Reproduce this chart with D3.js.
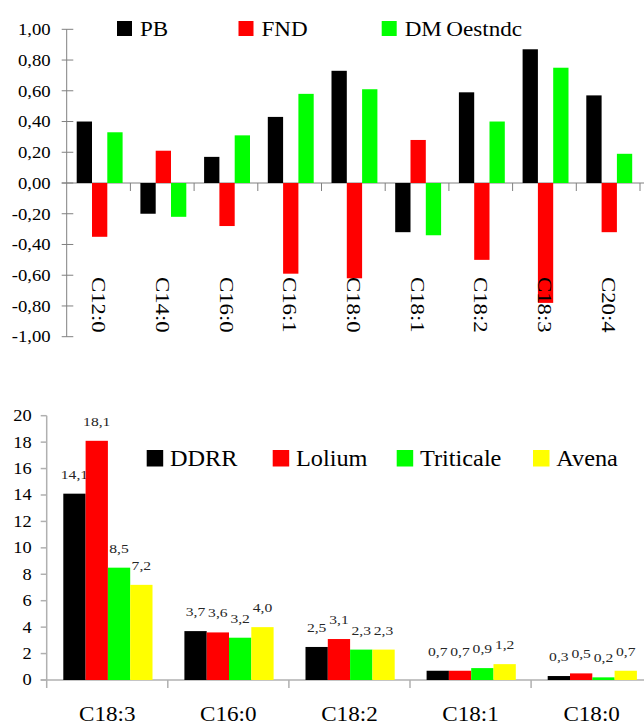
<!DOCTYPE html>
<html>
<head>
    <meta charset="UTF-8">
    <script src="https://d3js.org/d3.v7.min.js"></script>
    <style>
        body { margin: 0; background: #fff; }
        svg { display: block; }
    </style>
</head>
<body>
    <div id="chart"></div>
    <script>
        /*------------------- Data: top chart --------------------*/
        const acidosTop = ["C12:0", "C14:0", "C16:0", "C16:1", "C18:0", "C18:1", "C18:2", "C18:3", "C20:4"];
        const seriesTop = ["PB", "FND", "DMOestndc"];
        const valPB = [0.40, -0.20, 0.17, 0.43, 0.73, -0.32, 0.59, 0.87, 0.57];
        const valFND = [-0.35, 0.21, -0.28, -0.59, -0.62, 0.28, -0.50, -0.78, -0.32];
        const valDMO = [0.33, -0.22, 0.31, 0.58, 0.61, -0.34, 0.40, 0.75, 0.19];
        const ticksTop = [-1, -0.8, -0.6, -0.4, -0.2, 0, 0.2, 0.4, 0.6, 0.8, 1];

        /*------------------- Data: bottom chart -----------------*/
        const acidosBot = ["C18:3", "C16:0", "C18:2", "C18:1", "C18:0"];
        const forrajes = ["DDRR", "Lolium", "Triticale", "Avena"];
        const valDDRR = [14.1, 3.7, 2.5, 0.7, 0.3];
        const valLolium = [18.1, 3.6, 3.1, 0.7, 0.5];
        const valTriticale = [8.5, 3.2, 2.3, 0.9, 0.2];
        const valAvena = [7.2, 4.0, 2.3, 1.2, 0.7];
        const ticksBot = [0, 2, 4, 6, 8, 10, 12, 14, 16, 18, 20];

        const colorsTop = ["#000000", "#ff0000", "#00ff00"];
        const colorsBot = ["#000000", "#ff0000", "#00ff00", "#ffff00"];

        // comma as decimal mark, plain hyphen for minus
        const locale = d3.formatLocale({ decimal: ",", thousands: ".", grouping: [3], currency: ["", ""], minus: "-" });
        const fmt2 = locale.format(".2f");
        const fmt1 = locale.format(".1f");

        const svg = d3.select("#chart").append("svg")
            .attr("width", 644)
            .attr("height", 725);

        // text that is a bit wider than plain Times
        const addText = (g, x, y, str, size, sx, anchor, extra = "") => {
            return g.append("text")
                .attr("transform", `translate(${x},${y}) ${extra} scale(${sx},1)`)
                .attr("text-anchor", anchor)
                .attr("font-family", "Liberation Serif")
                .attr("font-size", size)
                .attr("fill", "#000")
                .text(str);
        };

        /*-------------------------------------------------------*/
        /*---------------------- Top chart ----------------------*/
        /*-------------------------------------------------------*/
        const gTop = svg.append("g");
        const topVals = [valPB, valFND, valDMO];

        const yTop = d3.scaleLinear().domain([-1, 1]).range([336.7, 29.3]);
        const xTop = d3.scaleBand().domain(acidosTop).range([66.7, 640]);
        const xTopIn = d3.scaleBand().domain(seriesTop).range([10, 10 + 3 * 15.3]);

        // y axis with crossing ticks
        gTop.append("line")
            .attr("x1", 66.7).attr("x2", 66.7)
            .attr("y1", yTop(1)).attr("y2", yTop(-1))
            .attr("stroke", "#808080");
        gTop.selectAll(".ytick").data(ticksTop).enter().append("line")
            .attr("x1", 61.7).attr("x2", 73.3)
            .attr("y1", d => yTop(d)).attr("y2", d => yTop(d))
            .attr("stroke", "#808080");
        ticksTop.forEach(t => {
            addText(gTop, 50.7, yTop(t), fmt2(t), 17, 1.1, "end").attr("dy", "0.34em");
        });

        // zero line with category ticks below
        gTop.append("line")
            .attr("x1", 61.7).attr("x2", 644)
            .attr("y1", yTop(0)).attr("y2", yTop(0))
            .attr("stroke", "#808080");
        const boundsTop = acidosTop.map(c => xTop(c)).concat([xTop.range()[1]]).slice(1);
        gTop.selectAll(".xtick").data(boundsTop).enter().append("line")
            .attr("x1", d => d).attr("x2", d => d)
            .attr("y1", yTop(0)).attr("y2", yTop(0) + 8)
            .attr("stroke", "#808080");

        // bars
        seriesTop.forEach((s, i) => {
            gTop.selectAll(".bar" + i).data(acidosTop).enter().append("rect")
                .attr("x", (c) => xTop(c) + xTopIn(s))
                .attr("width", xTopIn.bandwidth())
                .attr("y", (c, j) => Math.min(yTop(topVals[i][j]), yTop(0)))
                .attr("height", (c, j) => Math.abs(yTop(topVals[i][j]) - yTop(0)))
                .attr("fill", colorsTop[i]);
        });

        // rotated category labels, drawn over the bars
        acidosTop.forEach(c => {
            addText(gTop, xTop(c) + xTop.bandwidth() / 2, 277, c, 19, 1.2, "start", "rotate(90)")
                .attr("dy", "0.33em");
        });

        // legend
        const legTopX = [117, 238.5, 381.7];
        seriesTop.forEach((s, i) => {
            gTop.append("rect")
                .attr("x", legTopX[i]).attr("y", 21)
                .attr("width", 15).attr("height", 15)
                .attr("fill", colorsTop[i]);
            const t = addText(gTop, legTopX[i] + 23, 35.5, "", 21, 1.1, "start");
            if (s === "DMOestndc") {
                t.append("tspan").text("DM");
                t.append("tspan").attr("dx", 4).text("Oestndc");
            } else {
                t.text(s);
            }
        });

        /*-------------------------------------------------------*/
        /*--------------------- Bottom chart --------------------*/
        /*-------------------------------------------------------*/
        const gBot = svg.append("g");
        const botVals = [valDDRR, valLolium, valTriticale, valAvena];

        const yBot = d3.scaleLinear().domain([0, 20]).range([680, 415.7]);
        const xBot = d3.scaleBand().domain(acidosBot).range([46.7, 652.2]);
        const xBotIn = d3.scaleBand().domain(forrajes).range([16.6, 16.6 + 4 * 22.3]);

        // y axis
        gBot.append("line")
            .attr("x1", 46.7).attr("x2", 46.7)
            .attr("y1", yBot(20)).attr("y2", 688)
            .attr("stroke", "#b0b0b0").attr("stroke-width", 1.5);
        gBot.selectAll(".ytick").data(ticksBot).enter().append("line")
            .attr("x1", 40.7).attr("x2", 46.7)
            .attr("y1", d => yBot(d)).attr("y2", d => yBot(d))
            .attr("stroke", "#b0b0b0").attr("stroke-width", 1.5);
        ticksBot.forEach(t => {
            addText(gBot, 31.7, yBot(t), String(t), 16, 1.15, "end").attr("dy", "0.34em");
        });

        // x axis
        gBot.append("line")
            .attr("x1", 40.7).attr("x2", 644)
            .attr("y1", yBot(0)).attr("y2", yBot(0))
            .attr("stroke", "#b0b0b0").attr("stroke-width", 1.5);
        const boundsBot = acidosBot.map(c => xBot(c)).concat([xBot.range()[1]]).slice(1);
        gBot.selectAll(".xtick").data(boundsBot).enter().append("line")
            .attr("x1", d => d).attr("x2", d => d)
            .attr("y1", yBot(0)).attr("y2", yBot(0) + 8)
            .attr("stroke", "#b0b0b0").attr("stroke-width", 1.5);

        // bars + value labels
        forrajes.forEach((f, i) => {
            gBot.selectAll(".bar" + i).data(acidosBot).enter().append("rect")
                .attr("x", c => xBot(c) + xBotIn(f))
                .attr("width", xBotIn.bandwidth())
                .attr("y", (c, j) => yBot(botVals[i][j]))
                .attr("height", (c, j) => yBot(0) - yBot(botVals[i][j]))
                .attr("fill", colorsBot[i]);
            acidosBot.forEach((c, j) => {
                addText(gBot, xBot(c) + xBotIn(f) + xBotIn.bandwidth() / 2, yBot(botVals[i][j]) - 15,
                    fmt1(botVals[i][j]), 13, 1.2, "middle")
                    .attr("fill", "#262626");
            });
        });

        // category labels
        acidosBot.forEach(c => {
            addText(gBot, xBot(c) + xBot.bandwidth() / 2, 721, c, 22, 1.05, "middle");
        });

        // legend
        const legBotX = [146.7, 272.7, 396.7, 533];
        forrajes.forEach((f, i) => {
            gBot.append("rect")
                .attr("x", legBotX[i]).attr("y", 450)
                .attr("width", 16.5).attr("height", 16.5)
                .attr("fill", colorsBot[i]);
            addText(gBot, legBotX[i] + 23.3, 465.5, f, 22.5, 1.08, "start");
        });
    </script>
</body>
</html>
